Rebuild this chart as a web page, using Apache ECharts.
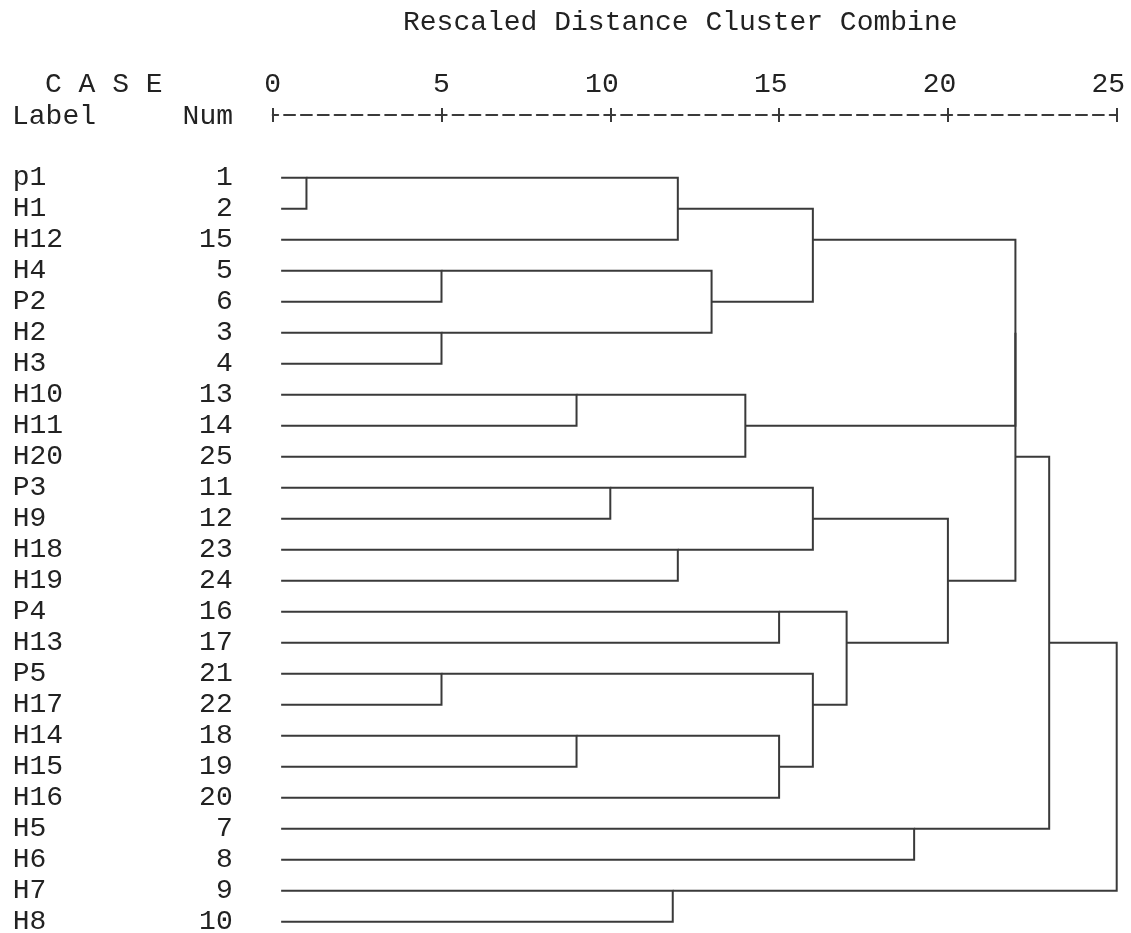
<!DOCTYPE html>
<html>
<head>
<meta charset="utf-8">
<script src="https://cdn.jsdelivr.net/npm/echarts@6/dist/echarts.min.js"></script>
<style>
  html, body { margin: 0; padding: 0; background: #fff; }
  #chart { width: 1131px; height: 933px; }
</style>
</head>
<body>
<div id="chart"></div>
<script>
// cases, in the order they appear in the dendrogram (top to bottom)
const caseLabels = ['p1', 'H1', 'H12', 'H4', 'P2', 'H2', 'H3', 'H10', 'H11', 'H20', 'P3', 'H9',
  'H18', 'H19', 'P4', 'H13', 'P5', 'H17', 'H14', 'H15', 'H16', 'H5', 'H6', 'H7', 'H8'];
const caseNums = [1, 2, 15, 5, 6, 3, 4, 13, 14, 25, 11, 12, 23, 24, 16, 17, 21, 22, 18, 19, 20, 7, 8, 9, 10];

// agglomeration steps: ids 0-24 are the rows above, step n makes cluster id 25 + n
const stepLeft  = [0, 25, 3, 5, 27, 26, 7, 31, 10, 12, 33, 14, 16, 18, 38, 37, 36, 35, 30, 43, 21, 44, 23, 46];
const stepRight = [1, 2, 4, 6, 28, 29, 8, 9, 11, 13, 34, 15, 17, 19, 20, 39, 40, 41, 32, 42, 22, 45, 24, 47];
const stepDist  = [1, 12, 5, 5, 13, 16, 9, 14, 10, 12, 16, 15, 5, 9, 15, 16, 17, 20, 22, 22, 19, 23, 11.85, 25];

const distTicks = [0, 5, 10, 15, 20, 25];

const FONT = "'Courier New', 'Liberation Mono', monospace";
const INK = '#222';
const LINE = '#3a3a3a';
const LEAF_START = 0.25;

// SPSS style: a merged cluster leaves from the row half way between its two parts
const rowOf = caseLabels.map((_, i) => i);
const xOf = caseLabels.map(() => LEAF_START);
const links = stepDist.map((d, s) => {
  const a = stepLeft[s], b = stepRight[s];
  const item = [d, rowOf[a], rowOf[b], xOf[a], xOf[b]];
  rowOf.push(Math.floor((rowOf[a] + rowOf[b]) / 2));
  xOf.push(d);
  return item;
});

const chart = echarts.init(document.getElementById('chart'));

const axisCommon = {
  type: 'value',
  position: 'top',
  offset: 62.7,
  min: distTicks[0],
  max: distTicks[distTicks.length - 1],
  interval: distTicks[1] - distTicks[0],
  splitLine: { show: false }
};

chart.setOption({
  animation: false,
  title: {
    text: 'Rescaled Distance Cluster Combine',
    left: 398,
    top: 4,
    textStyle: { fontFamily: FONT, fontSize: 28, fontWeight: 'normal', color: INK }
  },
  grid: { left: 272.7, right: 14.3, top: 177.7, bottom: 11.3, outerBoundsMode: 'none', containLabel: false },
  xAxis: [
    Object.assign({}, axisCommon, {
      axisLine: { onZero: false, lineStyle: { color: LINE, width: 2, type: [11, 5.85], dashOffset: 5.5 } },
      axisTick: { length: 7, lineStyle: { color: LINE, width: 2 } },
      axisLabel: {
        margin: 16,
        fontFamily: FONT,
        fontSize: 28,
        color: INK,
        // last digit sits over the "+"
        formatter: v => (v >= 10 ? v + ' ' : String(v))
      }
    }),
    Object.assign({}, axisCommon, {
      axisLine: { show: false, onZero: false },
      axisTick: { inside: true, length: 7, lineStyle: { color: LINE, width: 2 } },
      axisLabel: { show: false }
    })
  ],
  yAxis: {
    type: 'value',
    inverse: true,
    min: 0,
    max: caseLabels.length - 1,
    interval: 1,
    axisLine: { show: false },
    axisTick: { show: false },
    splitLine: { show: false },
    axisLabel: {
      margin: 40,
      formatter: v => `{a|${caseLabels[v]}}{b|${caseNums[v]}}`,
      rich: {
        a: { width: 160, align: 'left', fontFamily: FONT, fontSize: 28, color: INK },
        b: { width: 60, align: 'right', fontFamily: FONT, fontSize: 28, color: INK }
      }
    }
  },
  graphic: [
    { type: 'text', style: { text: 'C A S E', x: 45, y: 85, verticalAlign: 'middle', font: '28px ' + FONT, fill: INK } },
    { type: 'text', style: { text: 'Label', x: 12, y: 117, verticalAlign: 'middle', font: '28px ' + FONT, fill: INK } },
    { type: 'text', style: { text: 'Num', x: 233, y: 117, align: 'right', verticalAlign: 'middle', font: '28px ' + FONT, fill: INK } }
  ],
  series: [{
    type: 'custom',
    xAxisIndex: 0,
    data: links,
    encode: { x: [0, 3, 4], y: [1, 2] },
    renderItem: (params, api) => {
      const d = api.value(0), ra = api.value(1), rb = api.value(2);
      const xa = api.value(3), xb = api.value(4);
      return {
        type: 'polyline',
        shape: { points: [api.coord([xa, ra]), api.coord([d, ra]), api.coord([d, rb]), api.coord([xb, rb])] },
        style: { fill: null, stroke: LINE, lineWidth: 2 }
      };
    }
  }]
});
</script>
</body>
</html>
